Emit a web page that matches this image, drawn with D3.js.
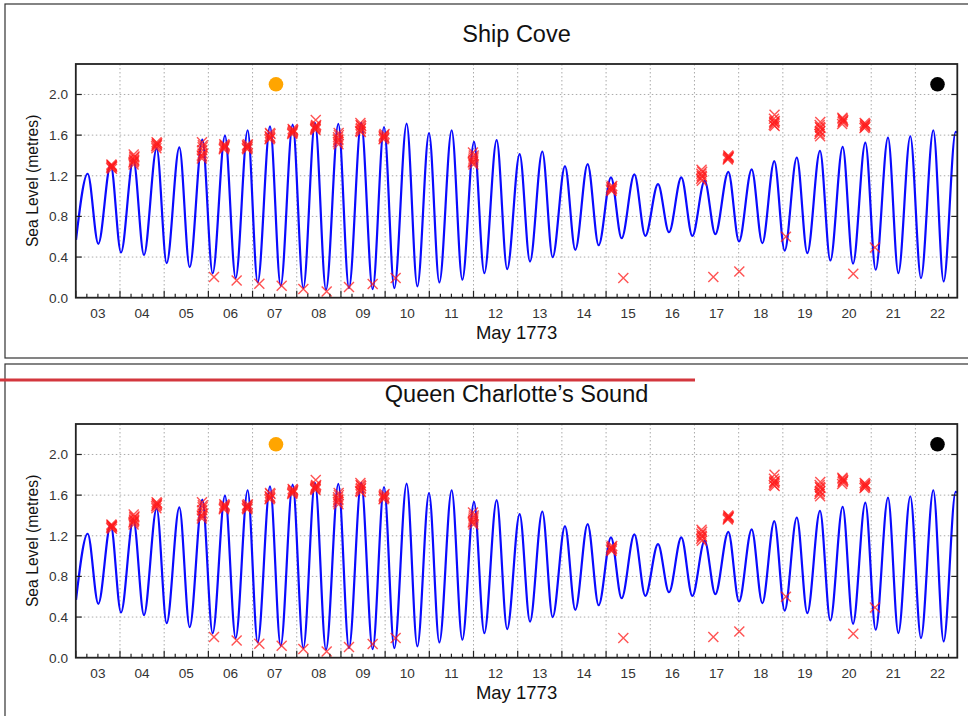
<!DOCTYPE html>
<html>
<head>
<meta charset="utf-8">
<script src="https://cdn.jsdelivr.net/npm/d3@7"></script>
<style>
  body { margin: 0; background: #fff; }
  text { font-family: "Liberation Sans", Arial, sans-serif; }
</style>
</head>
<body>
<script>
// panel titles, stacked top to bottom
const panelTitles = ["Ship Cove", "Queen Charlotte’s Sound"];
const xTitle = "May 1773";
const yTitle = "Sea Level (metres)";
const yTicks = [0, 0.4, 0.8, 1.2, 1.6, 2.0];
const dayLabels = ["03","04","05","06","07","08","09","10","11","12",
                   "13","14","15","16","17","18","19","20","21","22"];

// predicted tide: turning points [day of May, metres]
const tideTurns = [
  [3.005,0.57],[3.269,1.22],[3.510,0.53],[3.789,1.31],[4.023,0.445],[4.302,1.36],
  [4.543,0.42],[4.830,1.47],[5.056,0.34],[5.343,1.48],[5.577,0.30],[5.863,1.556],
  [6.097,0.24],[6.376,1.596],[6.618,0.193],[6.889,1.648],[7.116,0.150],[7.395,1.687],
  [7.636,0.118],[7.908,1.704],[8.149,0.095],[8.413,1.72],[8.662,0.078],[8.941,1.71],
  [9.182,0.095],[9.458,1.72],[9.718,0.085],[9.975,1.68],[10.208,0.095],[10.487,1.713],
  [10.729,0.111],[10.993,1.62],[11.227,0.150],[11.506,1.648],[11.747,0.177],[12.011,1.534],
  [12.245,0.242],[12.524,1.55],[12.762,0.281],[13.044,1.413],[13.278,0.356],[13.557,1.439],
  [13.791,0.399],[14.070,1.295],[14.304,0.471],[14.583,1.315],[14.832,0.517],[15.111,1.184],
  [15.352,0.585],[15.640,1.213],[15.888,0.608],[16.175,1.118],[16.424,0.644],[16.703,1.184],
  [16.952,0.608],[17.231,1.151],[17.472,0.625],[17.766,1.239],[18.008,0.553],[18.295,1.262],
  [18.536,0.536],[18.807,1.344],[19.041,0.464],[19.316,1.38],[19.554,0.438],[19.841,1.445],
  [20.075,0.366],[20.354,1.485],[20.588,0.334],[20.867,1.527],[21.101,0.275],[21.380,1.576],
  [21.614,0.242],[21.885,1.589],[22.126,0.193],[22.405,1.648],[22.639,0.160],[22.911,1.632],
  [22.948,1.625]
];

// observed levels (red crosses) [day of May, metres]
const observed = [
  [3.800,1.28],[3.812,1.30],[3.824,1.29],[3.806,1.31],[3.818,1.27],[3.809,1.29],[3.815,1.30],
  [4.304,1.33],[4.317,1.36],[4.328,1.39],[4.310,1.41],[4.324,1.35],[4.308,1.31],[4.320,1.38],[4.314,1.34],
  [4.818,1.49],[4.830,1.51],[4.842,1.52],[4.824,1.47],[4.836,1.50],[4.828,1.53],
  [5.851,1.40],[5.862,1.45],[5.874,1.50],[5.856,1.53],[5.869,1.42],[5.852,1.37],[5.870,1.48],[5.860,1.39],
  [6.349,1.46],[6.361,1.48],[6.372,1.50],[6.354,1.47],[6.368,1.49],[6.360,1.51],
  [6.870,1.47],[6.882,1.49],[6.893,1.51],[6.875,1.50],[6.889,1.48],[6.881,1.46],
  [7.384,1.56],[7.395,1.58],[7.406,1.61],[7.388,1.59],[7.402,1.57],[7.394,1.62],
  [7.897,1.61],[7.908,1.63],[7.919,1.65],[7.901,1.62],[7.915,1.64],[7.907,1.66],
  [8.416,1.66],[8.428,1.68],[8.438,1.70],[8.420,1.67],[8.430,1.75],[8.432,1.69],[8.424,1.65],
  [8.930,1.53],[8.941,1.56],[8.952,1.60],[8.934,1.58],[8.948,1.62],[8.940,1.55],[8.944,1.51],
  [9.435,1.64],[9.447,1.66],[9.458,1.69],[9.440,1.72],[9.454,1.67],[9.445,1.70],[9.450,1.63],
  [9.964,1.56],[9.975,1.58],[9.986,1.61],[9.968,1.59],[9.982,1.57],[9.974,1.60],
  [11.984,1.33],[11.996,1.36],[12.006,1.40],[11.988,1.43],[12.002,1.38],[11.992,1.34],[11.998,1.31],
  [15.114,1.06],[15.127,1.08],[15.139,1.10],[15.119,1.09],[15.134,1.07],[15.125,1.05],
  [17.151,1.17],[17.163,1.20],[17.174,1.24],[17.156,1.22],[17.170,1.19],[17.160,1.26],[17.166,1.15],
  [17.754,1.36],[17.766,1.38],[17.777,1.39],[17.759,1.37],[17.773,1.38],[17.765,1.40],
  [18.794,1.70],[18.807,1.72],[18.818,1.74],[18.799,1.76],[18.812,1.80],[18.804,1.73],[18.815,1.69],
  [19.828,1.61],[19.840,1.64],[19.851,1.67],[19.833,1.70],[19.847,1.73],[19.836,1.63],[19.844,1.59],[19.840,1.68],
  [20.342,1.71],[20.354,1.73],[20.365,1.75],[20.347,1.77],[20.361,1.74],[20.352,1.76],
  [20.847,1.67],[20.859,1.69],[20.870,1.71],[20.852,1.72],[20.866,1.68],[20.858,1.70],
  // low waters
  [6.127,0.203],[6.640,0.17],[7.153,0.137],[7.659,0.118],[8.149,0.085],[8.677,0.062],
  [9.182,0.105],[9.718,0.134],[10.238,0.193],[15.390,0.193],[17.427,0.203],[18.015,0.258],
  [19.070,0.60],[20.594,0.235],[21.085,0.494]
];

// sun / moon markers
const markers = [
  { day: 7.53, level: 2.1, color: "#ffa500" },
  { day: 22.5, level: 2.1, color: "#000000" }
];

const width = 968, height = 716;
const toDate = d => new Date(Date.UTC(1773, 4, 1) + (d - 1) * 864e5);

const svg = d3.select("body").append("svg")
    .attr("width", width)
    .attr("height", height);

const x = d3.scaleUtc()
    .domain([toDate(3), toDate(22.948)])
    .range([75.8, 957.3]);

function drawPanel(title, top) {
  const g = svg.append("g").attr("transform", `translate(0,${top})`);

  // panel frame
  g.append("rect")
      .attr("x", 5).attr("y", 4)
      .attr("width", 975).attr("height", 354)
      .attr("fill", "none")
      .attr("stroke", "#333")
      .attr("stroke-width", 1.2);

  const y = d3.scaleLinear().domain([0, 2.3]).range([297.7, 64]);
  const [x0, x1] = x.range();

  // dotted grid
  const days = d3.utcDay.range(toDate(4), toDate(22.95));
  g.append("g").selectAll("line").data(days).join("line")
      .attr("x1", d => x(d)).attr("x2", d => x(d))
      .attr("y1", y.range()[1]).attr("y2", y.range()[0])
      .attr("stroke", "#aaa").attr("stroke-width", 1)
      .attr("stroke-dasharray", "1.5,2.5");
  g.append("g").selectAll("line").data(yTicks.slice(1)).join("line")
      .attr("x1", x0).attr("x2", x1)
      .attr("y1", d => y(d)).attr("y2", d => y(d))
      .attr("stroke", "#aaa").attr("stroke-width", 1)
      .attr("stroke-dasharray", "1.5,2.5");

  // tide curve
  const line = d3.line()
      .x(d => x(toDate(d[0])))
      .y(d => y(d[1]))
      .curve(d3.curveMonotoneX);
  g.append("path")
      .datum(tideTurns)
      .attr("d", line)
      .attr("fill", "none")
      .attr("stroke", "#0a0aff")
      .attr("stroke-width", 2.2);

  // observed crosses
  g.append("g").selectAll("path").data(observed).join("path")
      .attr("transform", d => `translate(${x(toDate(d[0]))},${y(d[1])})`)
      .attr("d", "M-5,-5L5,5M-5,5L5,-5")
      .attr("stroke", "#ff1a1a")
      .attr("stroke-opacity", 0.75)
      .attr("stroke-width", 1.4);

  g.append("g").selectAll("circle").data(markers).join("circle")
      .attr("cx", d => x(toDate(d.day)))
      .attr("cy", d => y(d.level))
      .attr("r", 7.3)
      .attr("fill", d => d.color);

  // ticks
  const quarter = d3.utcHour.every(6).range(toDate(3), toDate(22.95));
  g.append("g").selectAll("line").data(quarter).join("line")
      .attr("x1", d => x(d)).attr("x2", d => x(d))
      .attr("y1", y(0))
      .attr("y2", d => y(0) - (d.getUTCHours() === 0 ? 7 : 4))
      .attr("stroke", "#222").attr("stroke-width", 1.2);
  g.append("g").selectAll("line").data(yTicks.slice(1)).join("line")
      .attr("x1", x0).attr("x2", x0 + 6)
      .attr("y1", d => y(d)).attr("y2", d => y(d))
      .attr("stroke", "#222").attr("stroke-width", 1.2);
  g.append("g").selectAll("line").data(yTicks.slice(1)).join("line")
      .attr("x1", x1).attr("x2", x1 - 6)
      .attr("y1", d => y(d)).attr("y2", d => y(d))
      .attr("stroke", "#222").attr("stroke-width", 1.2);

  // plot frame
  g.append("rect")
      .attr("x", x0).attr("y", y.range()[1])
      .attr("width", x1 - x0).attr("height", y.range()[0] - y.range()[1])
      .attr("fill", "none")
      .attr("stroke", "#222")
      .attr("stroke-width", 1.8);

  // tick labels
  g.append("g").selectAll("text").data(yTicks).join("text")
      .attr("x", 68).attr("y", d => y(d))
      .attr("dy", "0.36em")
      .attr("text-anchor", "end")
      .attr("font-size", 13.6)
      .attr("fill", "#333")
      .text(d => d.toFixed(1));
  g.append("g").selectAll("text").data(dayLabels).join("text")
      .attr("x", (d, i) => x(toDate(3.5 + i)))
      .attr("y", 317.5)
      .attr("text-anchor", "middle")
      .attr("font-size", 13.6)
      .attr("fill", "#333")
      .text(d => d);

  // titles
  g.append("text")
      .attr("x", (x0 + x1) / 2).attr("y", 42)
      .attr("text-anchor", "middle")
      .attr("font-size", 23.5)
      .attr("fill", "#111")
      .text(title);
  g.append("text")
      .attr("x", (x0 + x1) / 2).attr("y", 338.5)
      .attr("text-anchor", "middle")
      .attr("font-size", 18.5)
      .attr("fill", "#111")
      .text(xTitle);
  g.append("text")
      .attr("transform", `translate(37.5,${(y.range()[0] + y.range()[1]) / 2}) rotate(-90)`)
      .attr("text-anchor", "middle")
      .attr("font-size", 15.7)
      .attr("fill", "#111")
      .text(yTitle);
}

panelTitles.forEach((t, i) => drawPanel(t, i * 360));

// red rule between the panels
svg.append("line")
    .attr("x1", 0).attr("x2", 695)
    .attr("y1", 380).attr("y2", 380)
    .attr("stroke", "#d3363d")
    .attr("stroke-width", 3);
</script>
</body>
</html>
